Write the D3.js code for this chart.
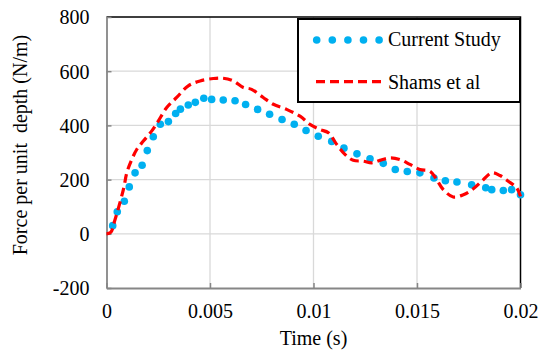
<!DOCTYPE html>
<html>
<head>
<meta charset="utf-8">
<script src="https://cdn.jsdelivr.net/npm/d3@7"></script>
<style>
  body { margin: 0; background: #ffffff; }
</style>
</head>
<body>
<div id="chart"></div>
<script>
// series data
var seriesNames = ['Current Study', 'Shams et al'];

var currentTime = [0.0003, 0.00052, 0.00086, 0.0011, 0.00138, 0.00172, 0.00197, 0.00226, 0.0026, 0.00299,
  0.00334, 0.00357, 0.00395, 0.00429, 0.0047, 0.00508, 0.00564, 0.00621, 0.00672, 0.0073,
  0.00788, 0.00848, 0.00907, 0.00964, 0.01023, 0.01088, 0.01147, 0.0121, 0.01273, 0.01337,
  0.01395, 0.01453, 0.01514, 0.01582, 0.01637, 0.01693, 0.01764, 0.01832, 0.01861, 0.01917,
  0.01957, 0.02];
var currentForce = [30, 81, 120, 173, 225, 253, 307, 358, 404, 414,
  444, 460, 475, 485, 500, 496, 494, 491, 477, 459,
  441, 422, 404, 381, 360, 341, 316, 295, 277, 260,
  237, 230, 225, 206, 196, 191, 181, 170, 163, 160,
  163, 144];

var shamsTime = [0, 0.0002, 0.00041, 0.00065, 0.00085, 0.00098, 0.00122, 0.00146, 0.00178, 0.00218,
  0.0025, 0.00291, 0.00339, 0.00395, 0.00452, 0.00516, 0.00564, 0.00613, 0.00661, 0.00701,
  0.00757, 0.00806, 0.0087, 0.00935, 0.00983, 0.01031, 0.01072, 0.01112, 0.01152, 0.01192,
  0.01241, 0.01281, 0.01321, 0.0137, 0.01418, 0.01466, 0.01514, 0.01563, 0.01595, 0.01627,
  0.01675, 0.01724, 0.01772, 0.01813, 0.01861, 0.01901, 0.01941, 0.01982, 0.02];
var shamsForce = [0, 5, 52, 115, 175, 225, 274, 311, 342, 379,
  416, 466, 503, 546, 564, 573, 574, 564, 540, 533,
  503, 478, 459, 434, 404, 385, 373, 330, 293, 271,
  268, 262, 271, 280, 274, 256, 237, 231, 200, 163,
  136, 144, 166, 194, 225, 215, 194, 169, 138];

var xTicks = [0, 0.005, 0.01, 0.015, 0.02];
var xTickLabels = ['0', '0.005', '0.01', '0.015', '0.02'];
var yTicks = [-200, 0, 200, 400, 600, 800];
var yTickLabels = ['-200', '0', '200', '400', '600', '800'];

var fontFamily = '"Liberation Serif", "Times New Roman", serif';
var width = 539, height = 354;
var plot = {left: 106.5, right: 520.5, top: 17, bottom: 288};

var svg = d3.select('#chart').append('svg')
  .attr('width', width)
  .attr('height', height)
  .style('font-family', fontFamily);

var x = d3.scaleLinear().domain([0, 0.02]).range([plot.left, plot.right]);
var y = d3.scaleLinear().domain([-200, 800]).range([plot.bottom, plot.top]);

// gridlines
svg.append('g').selectAll('line')
  .data(yTicks.filter(function(d) { return d > -200 && d < 800; }))
  .enter().append('line')
  .attr('x1', plot.left).attr('x2', plot.right)
  .attr('y1', function(d) { return y(d); }).attr('y2', function(d) { return y(d); })
  .attr('stroke', '#d9d9d9').attr('stroke-width', 1.3);

svg.append('g').selectAll('line')
  .data(xTicks.filter(function(d) { return d > 0 && d < 0.02; }))
  .enter().append('line')
  .attr('y1', plot.top).attr('y2', plot.bottom)
  .attr('x1', function(d) { return x(d); }).attr('x2', function(d) { return x(d); })
  .attr('stroke', '#d9d9d9').attr('stroke-width', 1.3);

// top and right border
svg.append('path')
  .attr('d', 'M' + plot.left + ',' + plot.top + 'H' + plot.right + 'V' + plot.bottom)
  .attr('fill', 'none').attr('stroke', '#000000').attr('stroke-width', 1.5);

// axes
var yAxis = svg.append('g')
  .attr('transform', 'translate(' + plot.left + ',0)')
  .call(d3.axisLeft(y).tickValues(yTicks)
    .tickFormat(function(d, i) { return yTickLabels[i]; })
    .tickSizeInner(-5).tickSizeOuter(0).tickPadding(17));
yAxis.attr('font-family', null).attr('font-size', null);
yAxis.select('.domain').attr('stroke', '#868686').attr('stroke-width', 1.8);
yAxis.selectAll('.tick line').attr('stroke', '#868686').attr('stroke-width', 1.5);
yAxis.selectAll('.tick text')
  .style('font-family', fontFamily).style('font-size', '20px')
  .attr('fill', '#000000').attr('dy', '0.34em');

var xAxis = svg.append('g')
  .attr('transform', 'translate(0,' + plot.bottom + ')')
  .call(d3.axisBottom(x).tickValues(xTicks)
    .tickFormat(function(d, i) { return xTickLabels[i]; })
    .tickSizeInner(-5).tickSizeOuter(0).tickPadding(16));
xAxis.attr('font-family', null).attr('font-size', null);
xAxis.select('.domain').attr('stroke', '#868686').attr('stroke-width', 1.8);
xAxis.selectAll('.tick line').attr('stroke', '#868686').attr('stroke-width', 1.5);
xAxis.selectAll('.tick text')
  .style('font-family', fontFamily).style('font-size', '20px')
  .attr('fill', '#000000');

// axis titles
svg.append('text')
  .attr('x', 313.5).attr('y', 345)
  .attr('text-anchor', 'middle')
  .style('font-family', fontFamily)
  .style('font-size', '20px')
  .text('Time (s)');

svg.append('text')
  .attr('transform', 'translate(27,145) rotate(-90)')
  .attr('text-anchor', 'middle')
  .style('font-family', fontFamily)
  .style('font-size', '20px')
  .style('white-space', 'pre')
  .text('Force per unit  depth (N/m)');

// Current Study dots
var current = currentTime.map(function(t, i) { return {t: t, v: currentForce[i]}; });
svg.append('g').selectAll('circle')
  .data(current)
  .enter().append('circle')
  .attr('cx', function(d) { return x(d.t); })
  .attr('cy', function(d) { return y(d.v); })
  .attr('r', 3.8)
  .attr('fill', '#00b0f0');

// Shams et al dashed line
var shams = shamsTime.map(function(t, i) { return {t: t, v: shamsForce[i]}; });
var line = d3.line()
  .curve(d3.curveCatmullRom.alpha(0.5))
  .x(function(d) { return x(d.t); })
  .y(function(d) { return y(d.v); });

svg.append('path')
  .datum(shams)
  .attr('d', line)
  .attr('fill', 'none')
  .attr('stroke', '#ff0000')
  .attr('stroke-width', 3.2)
  .attr('stroke-dasharray', '9,5');

// legend
var legend = svg.append('g');
legend.append('rect')
  .attr('x', 298).attr('y', 19).attr('width', 222).attr('height', 83)
  .attr('fill', '#ffffff').attr('stroke', '#000000').attr('stroke-width', 2);

legend.selectAll('circle')
  .data(d3.range(5))
  .enter().append('circle')
  .attr('cx', function(d) { return 316.7 + d * 15.6; })
  .attr('cy', 40)
  .attr('r', 3.8)
  .attr('fill', '#00b0f0');

legend.append('line')
  .attr('x1', 316).attr('x2', 382).attr('y1', 81.7).attr('y2', 81.7)
  .attr('stroke', '#ff0000').attr('stroke-width', 3.2)
  .attr('stroke-dasharray', '9,5');

legend.selectAll('text.lab')
  .data(seriesNames)
  .enter().append('text')
  .attr('class', 'lab')
  .attr('x', 388)
  .attr('y', function(d, i) { return i === 0 ? 46 : 89; })
  .style('font-family', fontFamily)
  .style('font-size', '20px')
  .text(function(d) { return d; });
</script>
</body>
</html>
